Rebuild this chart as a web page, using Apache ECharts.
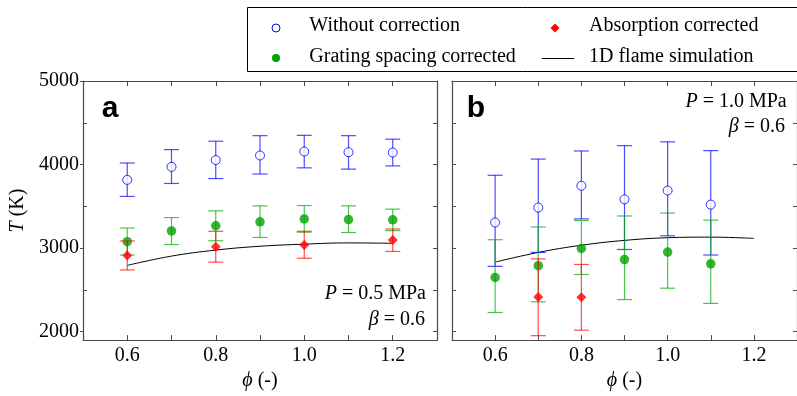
<!DOCTYPE html>
<html>
<head>
<meta charset="utf-8">
<script src="https://cdn.jsdelivr.net/npm/echarts@6/dist/echarts.min.js"></script>
<style>html,body{margin:0;padding:0;background:#fff}#c{width:797px;height:396px}</style>
</head>
<body>
<div id="c"></div>
<script>
// ---- Data ----
const phiTicks = [0.6, 0.7, 0.8, 0.9, 1.0, 1.1, 1.2];
const phiLabels = [0.6, 0.8, 1.0, 1.2];
const tMajor = [2000, 3000, 4000, 5000];
const tMinor = [2500, 3500, 4500];
const tAll = [2000, 2500, 3000, 3500, 4000, 4500, 5000];

// Panel a: P = 0.5 MPa
const phiA = [0.6, 0.7, 0.8, 0.9, 1.0, 1.1, 1.2];
const woA   = [3817, 3973, 4054, 4109, 4156, 4148, 4144];
const woLoA = [3619, 3774, 3833, 3887, 3961, 3946, 3984];
const woHiA = [4019, 4179, 4280, 4346, 4350, 4346, 4304];
const grA   = [3078, 3206, 3268, 3315, 3350, 3342, 3339];
const grLoA = [2918, 3043, 3089, 3128, 3191, 3187, 3210];
const grHiA = [3241, 3366, 3447, 3506, 3510, 3506, 3467];
const phiAbsA = [0.6, 0.8, 1.0, 1.2];
const abA   = [2911, 3016, 3039, 3097];
const abLoA = [2739, 2833, 2879, 2961];
const abHiA = [3086, 3202, 3202, 3230];
const phiSimA = [0.6, 0.7, 0.8, 0.9, 1.0, 1.1, 1.2];
const simA  = [2794, 2905, 2977, 3023, 3048, 3063, 3058];

// Panel b: P = 1.0 MPa
const phiB = [0.6, 0.7, 0.8, 0.9, 1.0, 1.1];
const woB   = [3307, 3486, 3747, 3584, 3689, 3521];
const woLoB = [2782, 2949, 3350, 2984, 3148, 2918];
const woHiB = [3872, 4066, 4163, 4226, 4272, 4167];
const grB   = [2650, 2790, 2996, 2864, 2953, 2813];
const grLoB = [2230, 2358, 2685, 2385, 2521, 2339];
const grHiB = [3101, 3253, 3331, 3385, 3420, 3335];
const phiAbsB = [0.7, 0.8];
const abB   = [2416, 2412];
const abLoB = [1953, 2019];
const abHiB = [2872, 2805];
const phiSimB = [0.6, 0.7, 0.8, 0.9, 1.0, 1.1, 1.2];
const simB  = [2833, 2949, 3035, 3093, 3125, 3132, 3117];

const names = ['Without correction', 'Grating spacing corrected', 'Absorption corrected', '1D flame simulation'];

// ---- Styling ----
const SERIF = "'Liberation Serif', 'Times New Roman', serif";
const BLUE = '#0000ff', GREEN = '#00a400', RED = '#ff0000';
const BLUE_BAR = 'rgba(0,0,255,0.7)', GREEN_BAR = 'rgba(0,170,0,0.7)', RED_BAR = 'rgba(255,0,0,0.7)';
const AXIS_COL = '#4a4a4a';

const zip = (xs, ys) => xs.map((x, i) => [x, ys[i]]);
const zip3 = (xs, ys, lo, hi) => xs.map((x, i) => [x, lo[i], hi[i], ys[i]]);

function errSeries(name, xs, ys, lo, hi, color, xi, yi, z) {
  return {
    type: 'custom', name: name + ' err', xAxisIndex: xi, yAxisIndex: yi, z: z,
    data: zip3(xs, ys, lo, hi),
    encode: { x: 0, y: [1, 2] },
    silent: true,
    renderItem: function (params, api) {
      const x = api.value(0);
      const a = api.coord([x, api.value(1)]);
      const b = api.coord([x, api.value(2)]);
      const w = 7.5;
      const st = { stroke: color, lineWidth: 1.2 };
      return {
        type: 'group',
        children: [
          { type: 'line', shape: { x1: a[0], y1: a[1], x2: b[0], y2: b[1] }, style: st },
          { type: 'line', shape: { x1: a[0] - w, y1: a[1], x2: a[0] + w, y2: a[1] }, style: st },
          { type: 'line', shape: { x1: b[0] - w, y1: b[1], x2: b[0] + w, y2: b[1] }, style: st }
        ]
      };
    }
  };
}

function markerSeries(name, xs, ys, xi, yi, sym, size, style, z) {
  return {
    type: 'scatter', name: name, xAxisIndex: xi, yAxisIndex: yi, z: z,
    symbol: sym, symbolSize: size, itemStyle: style,
    data: zip(xs, ys), silent: true
  };
}

function simSeries(xs, ys, xi, yi) {
  return {
    type: 'line', name: names[3], xAxisIndex: xi, yAxisIndex: yi, z: 2,
    data: zip(xs, ys), smooth: 0.4, symbol: 'none', silent: true,
    lineStyle: { color: '#000', width: 1 }, itemStyle: { color: '#000' }
  };
}

const woStyle = { color: '#fff', borderColor: BLUE, borderWidth: 1 };
const grStyle = { color: GREEN };
const abStyle = { color: RED };

function xAxisPair(gi) {
  return [
    {
      type: 'value', gridIndex: gi, position: 'bottom', min: 0.5, max: 1.3,
      axisLine: { show: true, lineStyle: { color: AXIS_COL, width: 1.2 } },
      axisTick: { show: true, inside: true, length: 5, customValues: phiTicks, lineStyle: { color: AXIS_COL } },
      axisLabel: { show: true, customValues: phiLabels, margin: 6, color: '#000', fontFamily: SERIF, fontSize: 20,
        formatter: v => Number(v).toFixed(1) },
      splitLine: { show: false },
      name: '{i|ϕ} (-)', nameLocation: 'middle', nameGap: 26,
      nameTextStyle: { color: '#000', fontFamily: SERIF, fontSize: 20,
        rich: { i: { fontStyle: 'italic', fontFamily: SERIF, fontSize: 20, color: '#000' } } }
    },
    {
      type: 'value', gridIndex: gi, position: 'top', min: 0.5, max: 1.3,
      axisLine: { show: true, lineStyle: { color: AXIS_COL, width: 1.2 } },
      axisTick: { show: true, inside: true, length: 5, customValues: phiTicks, lineStyle: { color: AXIS_COL } },
      axisLabel: { show: false }, splitLine: { show: false }
    }
  ];
}

const yBase = { type: 'value', min: 1900, max: 5000, splitLine: { show: false } };

const LEG_FONT = "20px " + SERIF;
function legText(x, y, t) {
  return { type: 'text', x: x, y: y, z: 10, style: { text: t, font: LEG_FONT, fill: '#000', align: 'left', verticalAlign: 'middle' } };
}
function note(x, y, t) {
  return { type: 'text', x: x, y: y, z: 10, style: { text: t, font: "20px " + SERIF, fill: '#000', align: 'right', verticalAlign: 'middle',
    rich: { i: { fontStyle: 'italic', font: "italic 20px " + SERIF } } } };
}

const option = {
  backgroundColor: '#fff',
  animation: false,
  grid: [
    { left: 83, top: 81, width: 354, height: 266 },
    { left: 452, top: 81, width: 354, height: 266 }
  ],
  xAxis: [...xAxisPair(0), ...xAxisPair(1)],
  yAxis: [
    Object.assign({}, yBase, {
      gridIndex: 0, position: 'left',
      axisLine: { show: true, lineStyle: { color: AXIS_COL, width: 1.2 } },
      axisTick: { show: true, inside: false, length: 3, customValues: tMajor, lineStyle: { color: AXIS_COL } },
      axisLabel: { show: true, customValues: tMajor, margin: 4, color: '#000', fontFamily: SERIF, fontSize: 20,
        formatter: v => String(Math.round(v)) },
      name: '{i|T} (K)', nameLocation: 'middle', nameGap: 55, nameRotate: 90,
      nameTextStyle: { color: '#000', fontFamily: SERIF, fontSize: 20,
        rich: { i: { fontStyle: 'italic', fontFamily: SERIF, fontSize: 20, color: '#000' } } }
    }),
    Object.assign({}, yBase, {
      gridIndex: 0, position: 'left',
      axisLine: { show: false },
      axisTick: { show: true, inside: true, length: 4, customValues: tMinor, lineStyle: { color: AXIS_COL } },
      axisLabel: { show: false }
    }),
    Object.assign({}, yBase, {
      gridIndex: 0, position: 'right',
      axisLine: { show: true, lineStyle: { color: AXIS_COL, width: 1.2 } },
      axisTick: { show: true, inside: true, length: 4, customValues: tAll, lineStyle: { color: AXIS_COL } },
      axisLabel: { show: false }
    }),
    Object.assign({}, yBase, {
      gridIndex: 1, position: 'left',
      axisLine: { show: true, lineStyle: { color: AXIS_COL, width: 1.2 } },
      axisTick: { show: true, inside: true, length: 4, customValues: tAll, lineStyle: { color: AXIS_COL } },
      axisLabel: { show: false }
    }),
    Object.assign({}, yBase, {
      gridIndex: 1, position: 'right',
      axisLine: { show: true, lineStyle: { color: AXIS_COL, width: 1.2 } },
      axisTick: { show: true, inside: true, length: 4, customValues: tAll, lineStyle: { color: AXIS_COL } },
      axisLabel: { show: false }
    })
  ],
  graphic: [
    // legend frame
    { type: 'rect', z: 1, shape: { x: 247.5, y: 7.5, width: 600, height: 64 },
      style: { fill: 'none', stroke: '#000', lineWidth: 1 } },
    // legend keys
    { type: 'circle', z: 10, shape: { cx: 276, cy: 28, r: 4 }, style: { fill: '#fff', stroke: BLUE, lineWidth: 1 } },
    { type: 'circle', z: 10, shape: { cx: 276, cy: 58, r: 4 }, style: { fill: GREEN } },
    { type: 'polygon', z: 10, shape: { points: [[555, 23.5], [559.5, 28], [555, 32.5], [550.5, 28]] }, style: { fill: RED } },
    { type: 'line', z: 10, shape: { x1: 541.7, y1: 58.5, x2: 574.3, y2: 58.5 }, style: { stroke: '#000', lineWidth: 1 } },
    legText(309.3, 26, names[0]),
    legText(309.3, 56.5, names[1]),
    legText(589, 26, names[2]),
    legText(589, 56.5, names[3]),
    // panel letters
    { type: 'text', x: 101.7, y: 109, style: { text: 'a', font: "bold 30px 'Liberation Sans', Arial, sans-serif", fill: '#000', align: 'left', verticalAlign: 'middle' } },
    { type: 'text', x: 466.7, y: 109, style: { text: 'b', font: "bold 30px 'Liberation Sans', Arial, sans-serif", fill: '#000', align: 'left', verticalAlign: 'middle' } },
    // annotations
    note(426, 293.3, '{i|P} = 0.5 MPa'),
    note(425, 319.3, '{i|β} = 0.6'),
    note(786.7, 101.6, '{i|P} = 1.0 MPa'),
    note(785, 126.6, '{i|β} = 0.6')
  ],
  series: [
    // panel a
    simSeries(phiSimA, simA, 0, 0),
    errSeries(names[0], phiA, woA, woLoA, woHiA, BLUE_BAR, 0, 0, 3),
    markerSeries(names[0], phiA, woA, 0, 0, 'circle', 9, woStyle, 4),
    errSeries(names[1], phiA, grA, grLoA, grHiA, GREEN_BAR, 0, 0, 5),
    markerSeries(names[1], phiA, grA, 0, 0, 'circle', 9.5, grStyle, 6),
    errSeries(names[2], phiAbsA, abA, abLoA, abHiA, RED_BAR, 0, 0, 7),
    markerSeries(names[2], phiAbsA, abA, 0, 0, 'diamond', 10, abStyle, 8),
    // panel b
    simSeries(phiSimB, simB, 2, 3),
    errSeries(names[0], phiB, woB, woLoB, woHiB, BLUE_BAR, 2, 3, 3),
    markerSeries(names[0], phiB, woB, 2, 3, 'circle', 9, woStyle, 4),
    errSeries(names[1], phiB, grB, grLoB, grHiB, GREEN_BAR, 2, 3, 5),
    markerSeries(names[1], phiB, grB, 2, 3, 'circle', 9.5, grStyle, 6),
    errSeries(names[2], phiAbsB, abB, abLoB, abHiB, RED_BAR, 2, 3, 7),
    markerSeries(names[2], phiAbsB, abB, 2, 3, 'diamond', 10, abStyle, 8)
  ]
};

const chart = echarts.init(document.getElementById('c'), null, { renderer: 'canvas' });
chart.setOption(option);
</script>
</body>
</html>
